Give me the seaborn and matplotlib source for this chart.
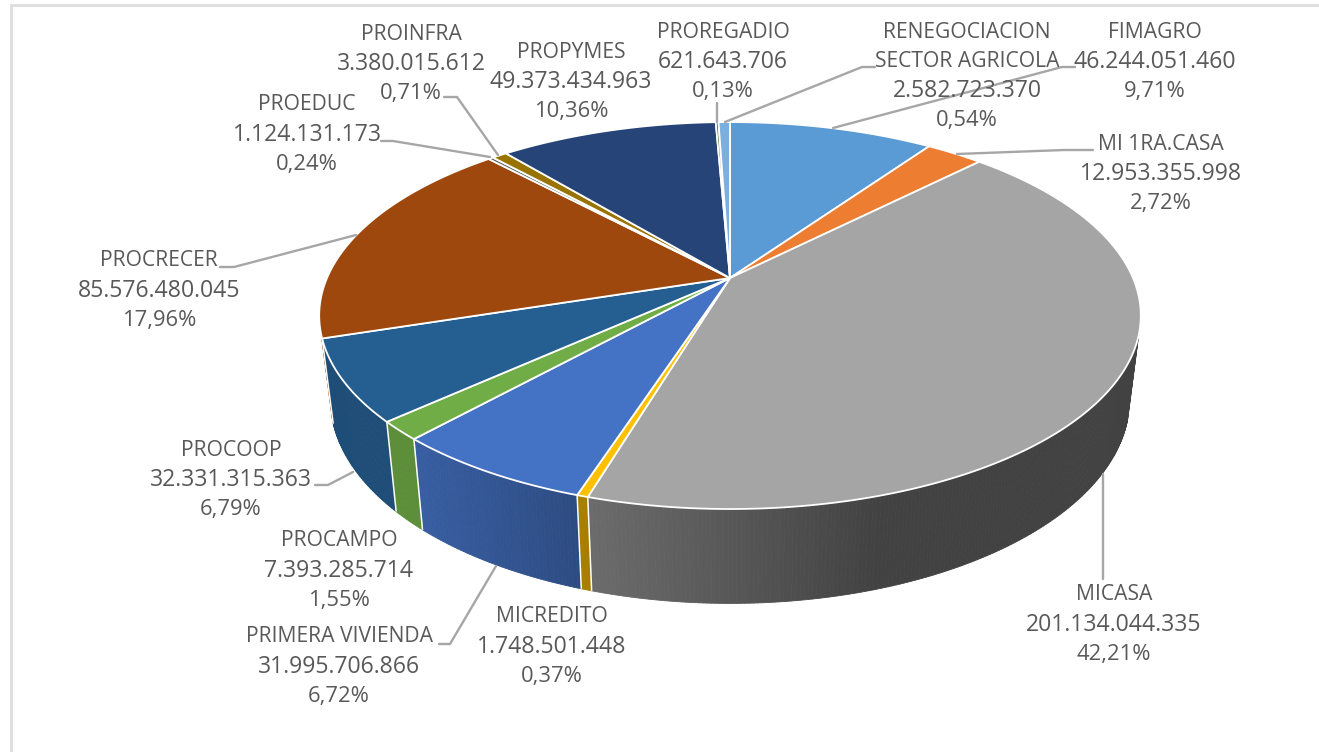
import numpy as np
import matplotlib
matplotlib.use("Agg")
import matplotlib.pyplot as plt
import seaborn as sns

# ---- data ----
programs = ["FIMAGRO", "MI 1RA.CASA", "MICASA", "MICREDITO", "PRIMERA VIVIENDA", "PROCAMPO",
            "PROCOOP", "PROCRECER", "PROEDUC", "PROINFRA", "PROPYMES", "PROREGADIO",
            "RENEGOCIACION\nSECTOR AGRICOLA"]
amounts = [46244051460, 12953355998, 201134044335, 1748501448, 31995706866, 7393285714,
           32331315363, 85576480045, 1124131173, 3380015612, 49373434963, 621643706,
           2582723370]
percents = ["9,71%", "2,72%", "42,21%", "0,37%", "6,72%", "1,55%",
            "6,79%", "17,96%", "0,24%", "0,71%", "10,36%", "0,13%", "0,54%"]
slice_colors = ["#5B9BD5", "#ED7D31", "#A5A5A5", "#FFC000", "#4472C4", "#70AD47",
                "#255E91", "#9E480E", "#636363", "#997300", "#264478", "#43682B", "#7CAFDD"]

# ---- layout (pixels) ----
label_xy = [(1155, 32), (1161, 144), (1114, 595), (552, 617), (339, 637), (339, 541),
            (231, 450), (159, 261), (307, 105), (411, 34), (571, 52), (723, 32), (967, 32)]
leaders = [[(1075, 67), (1062, 67), (833, 128)],
           [(1093, 150), (1064, 150), (957, 154)],
           [(1103, 579), (1103, 474)],
           None,
           [(439, 644), (450, 644), (496, 566)],
           None,
           [(315, 485), (328, 485), (353, 472)],
           [(220, 267), (234, 267), (356, 235)],
           [(381, 141), (393, 141), (490, 157)],
           [(444, 97), (457, 97), (498, 155)],
           None,
           [(717, 103), (717, 122)],
           [(875, 67), (862, 67), (725, 122)]]

sns.set_theme(style="white")
plt.rcParams["font.family"] = ["Open Sans", "DejaVu Sans"]
palette = sns.color_palette(slice_colors)

fig, ax = plt.subplots(figsize=(13.19, 7.52), dpi=100)
fig.subplots_adjust(0, 0, 1, 1)
ax.set_xlim(0, 1319)
ax.set_ylim(752, 0)
ax.axis("off")

CX, K = 730.0, 0.194


def project(theta, a, b, y0):
    u, v = np.sin(theta), np.cos(theta)
    d = 1 + K * v
    return CX + a * u / d, y0 - b * v / d


def top(theta):
    return project(theta, 403.0, 186.2, 278.0)


def base(theta):
    return project(theta, 392.0, 196.2, 360.0)


def shade(color, x):
    f = np.interp(x, [420, 580, 880], [0.82, 0.66, 0.40])
    return tuple(c * f for c in color)


shares = np.array(amounts, dtype=float) / np.sum(amounts)
edges = np.concatenate([[0], np.cumsum(shares)]) * 2 * np.pi

# side wall: only the part facing the viewer
facets = []
for i, col in enumerate(palette):
    n = max(2, int(np.degrees(edges[i + 1] - edges[i]) / 0.5) + 1)
    th = np.linspace(edges[i], edges[i + 1], n + 1)
    for t0, t1 in zip(th[:-1], th[1:]):
        if np.cos((t0 + t1) / 2) < -0.29:
            facets.append((t0, t1, col))
for t0, t1, col in facets:
    x0, y0 = top(t0)
    x1, y1 = top(t1)
    x2, y2 = base(t1)
    x3, y3 = base(t0)
    c = shade(col, (x0 + x1) / 2)
    ax.fill([x0, x1, x2, x3], [y0, y1, y2, y3], color=c, lw=0.6, zorder=1)

# separators on the wall
for e in edges[:-1]:
    if np.cos(e) < -0.3:
        x0, y0 = top(e)
        x1, y1 = base(e)
        ax.plot([x0, x1], [y0, y1], color="white", lw=1.1, zorder=2, solid_capstyle="butt")

# top face
for i, col in enumerate(palette):
    n = max(2, int(np.degrees(edges[i + 1] - edges[i])) + 1)
    th = np.linspace(edges[i], edges[i + 1], n + 1)
    xs, ys = top(th)
    ax.fill(np.r_[CX, xs], np.r_[278.0, ys], facecolor=col, edgecolor="white",
            lw=1.3, joinstyle="round", zorder=3)

# leader lines
for pts in leaders:
    if pts:
        ax.plot(*zip(*pts), color="#A6A6A6", lw=1.7, zorder=4, solid_joinstyle="round")

# labels
LINE = 29.6
for name, amt, pct, (x, y) in zip(programs, amounts, percents, label_xy):
    name_lines = name.split("\n")
    rows = [(s, 15.2) for s in name_lines]
    rows += [(f"{amt:,}".replace(",", "."), 16.6), (pct, 15.8)]
    for j, (s, fs) in enumerate(rows):
        ax.text(x, y + j * LINE, s, ha="center", va="center", fontsize=fs,
                color="#595959", zorder=5)

# chart frame
ax.plot([11, 11], [752, 5], color="#E0E0E0", lw=2.2, zorder=0, solid_joinstyle="miter")
ax.plot([11, 1319], [5, 5], color="#E0E0E0", lw=2.2, zorder=0)

fig.savefig("out.png", dpi=100, facecolor="white")
